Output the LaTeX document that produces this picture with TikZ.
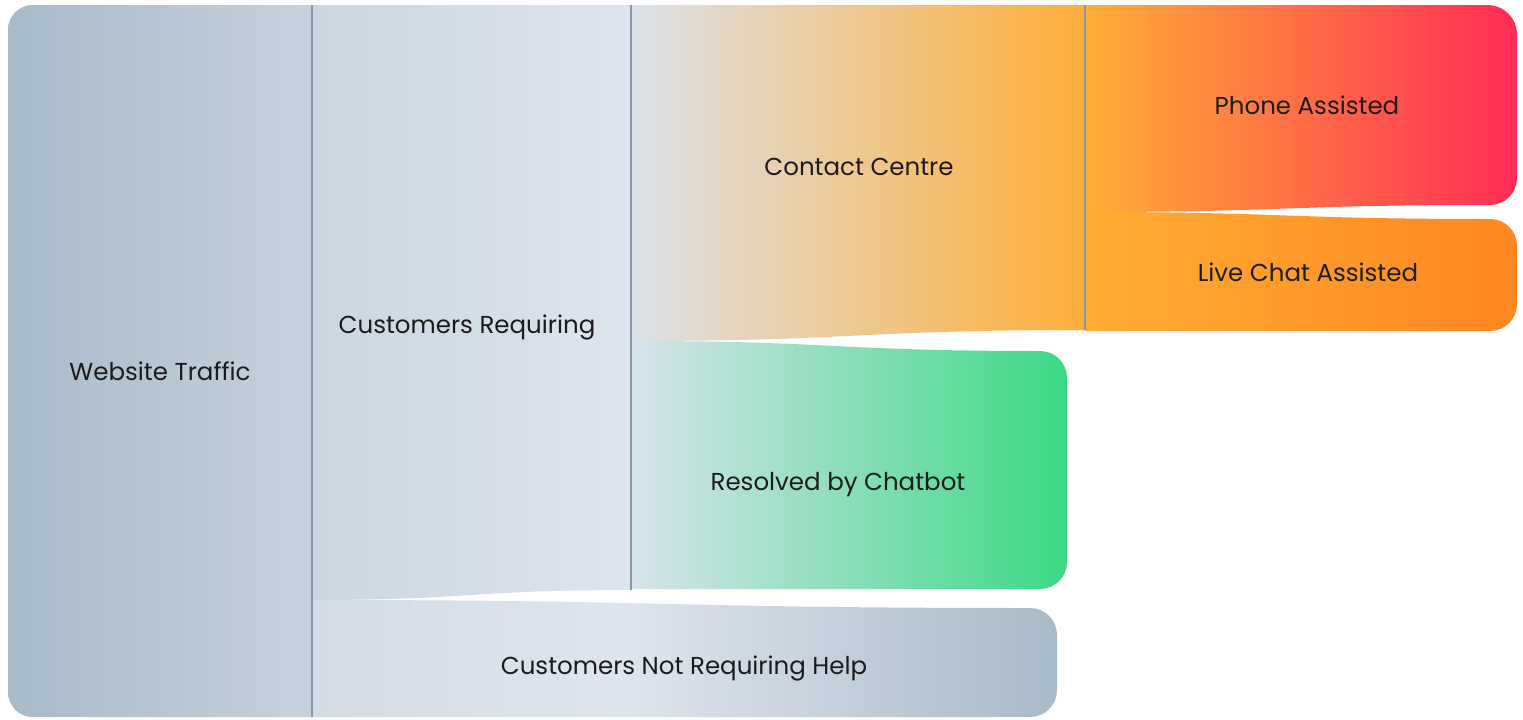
\documentclass[tikz,border=0pt]{standalone}
\usepackage{fontspec}
\setmainfont{Poppins}
\definecolor{wtA}{HTML}{A9BAC8}
\definecolor{wtB}{HTML}{C6D2DD}
\definecolor{crA}{HTML}{CAD6E0}
\definecolor{crB}{HTML}{DEE5EE}
\definecolor{nrA}{HTML}{D3DCE5}
\definecolor{nrB}{HTML}{DEE5EE}
\definecolor{nrC}{HTML}{A9BAC8}
\definecolor{ccA}{HTML}{DCE2E9}
\definecolor{ccB}{HTML}{FFAE38}
\definecolor{phA}{HTML}{FFAE37}
\definecolor{phB}{HTML}{FF2C56}
\definecolor{lcA}{HTML}{FFAD33}
\definecolor{lcB}{HTML}{FF8620}
\definecolor{cbA}{HTML}{D8E3EC}
\definecolor{cbB}{HTML}{3BD985}
\definecolor{sepc}{HTML}{8798AD}
\definecolor{txt}{HTML}{1C1C1C}
\pgfdeclarehorizontalshading{nrshade}{100bp}{color(0bp)=(nrA); color(25bp)=(nrA); color(46bp)=(nrB); color(75bp)=(nrC); color(100bp)=(nrC)}
\begin{document}
\begin{tikzpicture}[x=1pt,y=-1pt,
  lbl/.style={font=\fontsize{24.5}{29}\selectfont, text=txt, inner sep=0pt},
  sepline/.style={draw=sepc, line width=2pt}]
\useasboundingbox (0,0) rectangle (1523,720);
% Website Traffic
\shade[left color=wtA, right color=wtB] (312,5) -- (33,5) .. controls (19,5) and (8,16) .. (8,30) -- (8,692) .. controls (8,706) and (19,717) .. (33,717) -- (312,717) -- cycle;
% Customers Not Requiring Help band
\shade[shading=nrshade] (312,600) .. controls (671,600) and (671,608) .. (1030,608) .. controls (1045,608) and (1057,620) .. (1057,635) -- (1057,690) .. controls (1057,705) and (1045,717) .. (1030,717) -- (312,717) -- cycle;
% Customers Requiring band
\shade[left color=crA, right color=crB] (312,5) -- (631,5) -- (631,590) .. controls (471,590) and (471,600) .. (312,600) -- cycle;
% Contact Centre band
\shade[left color=ccA, right color=ccB] (631,5) -- (1085,5) -- (1085,330) .. controls (858,330) and (858,341) .. (631,341) -- cycle;
% Resolved by Chatbot band
\shade[left color=cbA, right color=cbB] (631,341) .. controls (835,341) and (835,351) .. (1040,351) .. controls (1055,351) and (1067,363) .. (1067,378) -- (1067,562) .. controls (1067,577) and (1055,589) .. (1040,589) -- (631,589) -- cycle;
% Phone Assisted band
\shade[left color=phA, right color=phB] (1085,5) -- (1487,5) .. controls (1504,5) and (1517,18) .. (1517,35) -- (1517,178) .. controls (1517,193) and (1505,205) .. (1490,205) .. controls (1287,205) and (1287,212) .. (1085,212) -- cycle;
% Live Chat Assisted band
\shade[left color=lcA, right color=lcB] (1085,212) .. controls (1287,212) and (1287,219) .. (1490,219) .. controls (1505,219) and (1517,231) .. (1517,246) -- (1517,304) .. controls (1517,319) and (1505,331) .. (1490,331) -- (1085,331) -- cycle;
% node bars
\coordinate (wtT) at (312,5); \coordinate (wtB) at (312,717);
\coordinate (crT) at (631,5); \coordinate (crB) at (631,590);
\coordinate (ccT) at (1085,5); \coordinate (ccB) at (1085,330);
\draw[sepline] (wtT) -- (wtB);
\draw[sepline] (crT) -- (crB);
\draw[sepline] (ccT) -- (ccB);
% labels
\node[lbl] (wt) at (160,371) {Website Traffic};
\node[lbl] (cr) at (467,327) {Customers Requiring};
\node[lbl] (cc) at (859,167) {Contact Centre};
\node[lbl] (ph) at (1307,105) {Phone Assisted};
\node[lbl] (lc) at (1308,272) {Live Chat Assisted};
\node[lbl] (cb) at (838,485) {Resolved by Chatbot};
\node[lbl] (nr) at (684,668) {Customers Not Requiring Help};
\end{tikzpicture}
\end{document}
